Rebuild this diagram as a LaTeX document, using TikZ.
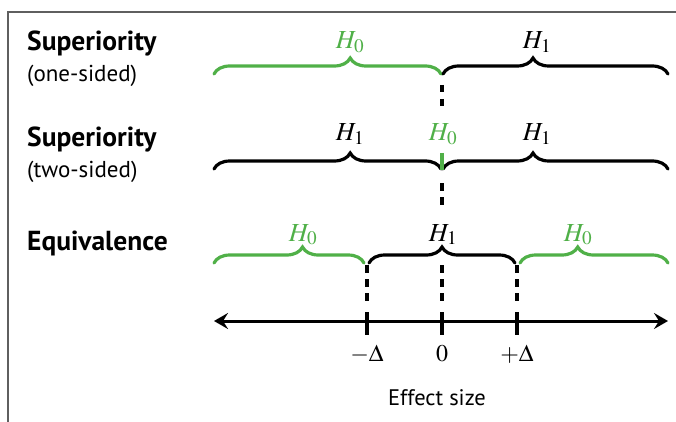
\documentclass[tikz,border=0pt]{standalone}
\usepackage{mathptmx}
\usepackage{fontspec}
\setsansfont{PT Sans}
\usetikzlibrary{decorations.pathreplacing,arrows.meta}
\definecolor{hgreen}{RGB}{80,176,72}
\definecolor{framegray}{RGB}{95,95,95}
\tikzset{
  bracebox/.style={decorate, decoration={brace, amplitude=16pt, aspect=#1}, line width=3.2pt, line cap=round},
  bracebox/.default=0.5,
  hlab/.style={font=\fontsize{26}{26}\selectfont, inner sep=0pt, anchor=base},
  rowtitle/.style={font=\sffamily\bfseries\fontsize{27.5}{27.5}\selectfont, inner sep=0pt, anchor=west},
  rowsub/.style={font=\sffamily\fontsize{23}{23}\selectfont, inner sep=0pt, anchor=west},
  dashline/.style={line width=3.5pt, dash pattern=on 7.5pt off 6.5pt},
  tickline/.style={line width=4pt},
  axislab/.style={font=\fontsize{24}{24}\selectfont, inner sep=0pt, anchor=base},
}
\begin{document}
\begin{tikzpicture}[x=1pt,y=-1pt]
\useasboundingbox (0,0) rectangle (676,422);
% frame
\coordinate (fTR) at (676,12);
\coordinate (fTL) at (8,12);
\coordinate (fBL) at (8,422);
\draw[framegray, line width=1.5pt] (fTR) -- (fTL) -- (fBL);

% row titles
\node[rowtitle] (t1) at (27,44) {Superiority};
\node[rowsub] (s1) at (27,76) {(one-sided)};
\node[rowtitle] (t2) at (27,140) {Superiority};
\node[rowsub] (s2) at (27,172) {(two-sided)};
\node[rowtitle] (t3) at (27,243) {Equivalence};

% brace end points
\coordinate (a1) at (214,74); \coordinate (b1) at (441,74);
\coordinate (c1) at (443,74); \coordinate (d1) at (668,74);
\coordinate (a2) at (214,169); \coordinate (b2) at (441,169);
\coordinate (c2) at (443,169); \coordinate (d2) at (668,169);
\coordinate (a3) at (214,263); \coordinate (b3) at (364,263);
\coordinate (c3) at (369,263); \coordinate (d3) at (515,263);
\coordinate (e3) at (520,263); \coordinate (f3) at (668,263);

% row 1
\draw[hgreen, bracebox=0.6] (a1) -- (b1);
\draw[black, bracebox=0.4] (c1) -- (d1);
\node[hlab, hgreen] (h10) at (350,49) {$H_0$};
\node[hlab] (h11) at (537,49) {$H_1$};

% row 2
\draw[black, bracebox=0.6] (a2) -- (b2);
\draw[black, bracebox=0.4] (c2) -- (d2);
\node[hlab] (h21) at (350,141) {$H_1$};
\node[hlab, hgreen] (h20) at (443,141) {$H_0$};
\node[hlab] (h22) at (537,141) {$H_1$};
\coordinate (g1) at (442,153); \coordinate (g2) at (442,170);
\draw[hgreen, line width=3.5pt] (g1) -- (g2);

% row 3
\draw[hgreen, bracebox=0.59] (a3) -- (b3);
\draw[black, bracebox=0.5] (c3) -- (d3);
\draw[hgreen, bracebox=0.39] (e3) -- (f3);
\node[hlab, hgreen] (h30) at (303,241) {$H_0$};
\node[hlab] (h31) at (443,241) {$H_1$};
\node[hlab, hgreen] (h32) at (578,241) {$H_0$};

% axis
\coordinate (axL) at (214,321); \coordinate (axR) at (668,321);
\draw[line width=3pt, {Stealth[length=14pt,width=16pt,inset=5pt]}-{Stealth[length=14pt,width=16pt,inset=5pt]}] (axL) -- (axR);

% ticks
\coordinate (m1) at (367,312); \coordinate (m2) at (367,335);
\coordinate (z1) at (442,312); \coordinate (z2) at (442,335);
\coordinate (p1) at (517,312); \coordinate (p2) at (517,335);
\draw[tickline] (m1) -- (m2);
\draw[tickline] (z1) -- (z2);
\draw[tickline] (p1) -- (p2);

% dashed guides
\coordinate (da1) at (442,85); \coordinate (da2) at (442,108);
\coordinate (db1) at (442,183); \coordinate (db2) at (442,207);
\coordinate (dc1) at (442,265); \coordinate (dc2) at (442,301);
\coordinate (dm1) at (367,265); \coordinate (dm2) at (367,301);
\coordinate (dp1) at (517,265); \coordinate (dp2) at (517,301);
\draw[dashline] (da1) -- (da2);
\draw[dashline] (db1) -- (db2);
\draw[dashline] (dc1) -- (dc2);
\draw[dashline] (dm1) -- (dm2);
\draw[dashline] (dp1) -- (dp2);

% axis labels
\node[axislab] (lm) at (367,361) {$-\Delta$};
\node[axislab] (lz) at (442,361) {$0$};
\node[axislab] (lp) at (517,361) {$+\Delta$};
\node[font=\sffamily\fontsize{22.5}{22.5}\selectfont, inner sep=0pt] (eff) at (437,398) {Effect size};
\end{tikzpicture}
\end{document}
